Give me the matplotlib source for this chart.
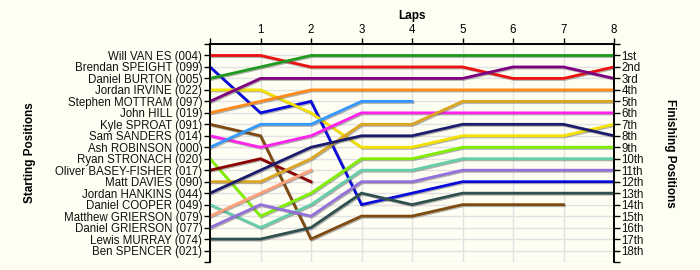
import matplotlib
matplotlib.use("Agg")
import matplotlib.pyplot as plt
import matplotlib.patheffects as pe
import numpy as np

plt.rcParams['font.family'] = ['Liberation Sans', 'DejaVu Sans']

drivers = ["Will VAN ES (004)", "Brendan SPEIGHT (099)", "Daniel BURTON (005)",
           "Jordan IRVINE (022)", "Stephen MOTTRAM (097)", "John HILL (019)",
           "Kyle SPROAT (091)", "Sam SANDERS (014)", "Ash ROBINSON (000)",
           "Ryan STRONACH (020)", "Oliver BASEY-FISHER (017)", "Matt DAVIES (090)",
           "Jordan HANKINS (044)", "Daniel COOPER (049)", "Matthew GRIERSON (079)",
           "Daniel GRIERSON (077)", "Lewis MURRAY (074)", "Ben SPENCER (021)"]

laps = [0, 1, 2, 3, 4, 5, 6, 7, 8]
lap_labels = ["", "1", "2", "3", "4", "5", "6", "7", "8"]
finish_labels = ["1st", "2nd", "3rd", "4th", "5th", "6th", "7th", "8th", "9th",
                 "10th", "11th", "12th", "13th", "14th", "15th", "16th", "17th", "18th"]

# position of each driver at lap 0..n (shorter list = retired)
van_es    = [1, 1, 2, 2, 2, 2, 3, 3, 2]
speight   = [2, 6, 5, 14, 13, 12, 12, 12, 12]
burton    = [3, 2, 1, 1, 1, 1, 1, 1, 1]
irvine    = [4, 4, 6, 9, 9, 8, 8, 8, 7]
mottram   = [5, 3, 3, 3, 3, 3, 2, 2, 3]
hill      = [6, 5, 4, 4, 4, 4, 4, 4, 4]
sproat    = [7, 8, 17, 15, 15, 14, 14, 14]
sanders   = [8, 9, 8, 6, 6, 6, 6, 6, 6]
robinson  = [9, 7, 7, 5, 5]
stronach  = [10, 15, 13, 10, 10, 9, 9, 9, 9]
basey     = [11, 10, 12]
davies    = [12, 12, 10, 7, 7, 5, 5, 5, 5]
hankins   = [13, 11, 9, 8, 8, 7, 7, 7, 8]
cooper    = [14, 16, 14, 11, 11, 10, 10, 10, 10]
m_grier   = [15, 13, 11]
d_grier   = [16, 14, 15, 12, 12, 11, 11, 11, 11]
murray    = [17, 17, 16, 13, 14, 13, 13, 13, 13]
spencer   = []

series = [van_es, speight, burton, irvine, mottram, hill, sproat, sanders, robinson,
          stronach, basey, davies, hankins, cooper, m_grier, d_grier, murray, spencer]
colors = ["#EE1111", "#0A0ADD", "#1E9A1E", "#F5E100", "#800080", "#FF8A1A",
          "#7E4A12", "#FF22EE", "#3399FF", "#80F000", "#8B0000", "#DAA520",
          "#1C1C6E", "#66CDAA", "#FFA07A", "#9370DB", "#2F4F4F", "#000000"]

bg = "#FEFEF2"
fig = plt.figure(figsize=(7, 2.7), dpi=100, facecolor=bg)
ax = fig.add_axes([210/700, 1-262/270, (614-210)/700, (262-44)/270], facecolor=bg)

for s, c in zip(series, colors):
    if not s:
        continue
    ax.plot(laps[:len(s)], s, color=c, lw=2.0, solid_joinstyle='miter',
            path_effects=[pe.SimpleLineShadow(offset=(0.8, -0.8), shadow_color='#555555', alpha=0.45),
                          pe.Normal()], zorder=3)

n = len(drivers)
ax.set_xlim(0, 8)
ax.set_ylim(n + 1, 0)

yt = np.arange(0, n + 2)
ax.set_yticks(yt)
ax.set_yticklabels([""] + drivers + [""], fontsize=8.3, color="#111111")
ax.set_xticks(laps)
ax.set_xticklabels(lap_labels, fontsize=8.3)
ax.xaxis.tick_top()
ax.tick_params(axis='both', direction='out', length=4, width=1, pad=1.5, color='black')

ax2 = ax.twinx()
ax2.set_ylim(n + 1, 0)
ax2.set_yticks(yt)
ax2.set_yticklabels([""] + finish_labels + [""], fontsize=8.3, color="#111111")
ax2.tick_params(axis='y', direction='out', length=4, width=1, pad=1.5)

ax.grid(True, color="#E2E2E2", lw=1, zorder=0)
ax.set_axisbelow(True)
for a in (ax, ax2):
    a.spines['bottom'].set_visible(False)
    for sp in ('top', 'left', 'right'):
        a.spines[sp].set_color('black')
        a.spines[sp].set_linewidth(1.2)

fig.text(412/700, 1-16/270, "Laps", ha='center', va='center', fontsize=8.5, fontweight='bold')
fig.text(30/700, 1-153/270, "Starting Positions", ha='center', va='center', rotation=90,
         fontsize=8.5, fontweight='bold')
fig.text(670/700, 1-153/270, "Finishing Positions", ha='center', va='center', rotation=-90,
         fontsize=8.5, fontweight='bold')

fig.savefig("out.png", dpi=100, facecolor=bg)
